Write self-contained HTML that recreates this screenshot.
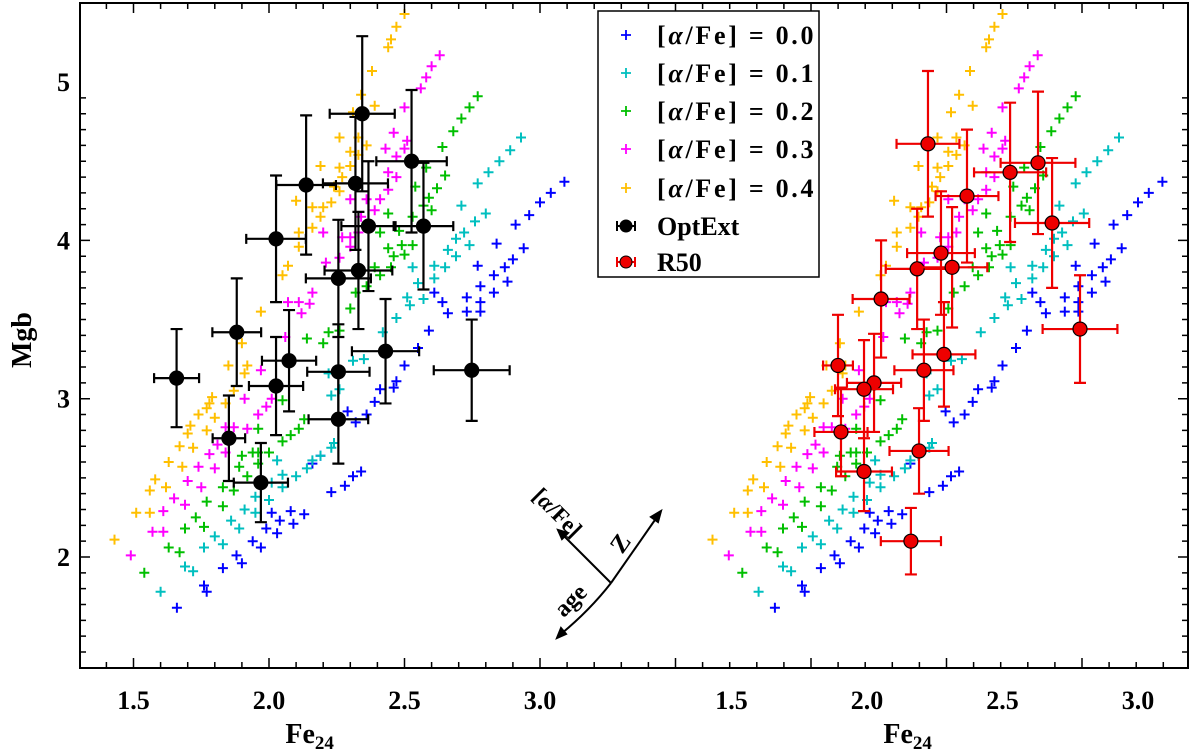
<!DOCTYPE html>
<html><head><meta charset="utf-8"><style>
html,body{margin:0;padding:0;background:#fff;}
svg{display:block;font-family:"Liberation Serif",serif;font-weight:bold;}
</style></head><body>
<svg id="chart" width="1200" height="752" viewBox="0 0 1200 752" xmlns="http://www.w3.org/2000/svg">
<g id="models"></g>
<g id="obs"></g>
<g id="axes"></g>
<g stroke="#000" stroke-width="2" fill="none">
  <line x1="611" y1="583" x2="657" y2="517"/>
  <path d="M661,511 l-3,11 l-7,-5 z" fill="#000"/>
  <line x1="611" y1="583" x2="563" y2="535"/>
  <path d="M558,530 l10,3 l-6,6 z" fill="#000"/>
  <path d="M611,583 Q590,610 561,634"/>
  <path d="M557,638 l4,-10 l5,6 z" fill="#000"/>
</g>
<text x="0" y="0" font-size="23" transform="translate(552,518) rotate(45)" text-anchor="middle">[<tspan font-style="italic">α</tspan>/Fe]</text>
<text x="0" y="0" font-size="25" transform="translate(627,548) rotate(-55)" text-anchor="middle">Z</text>
<text x="0" y="0" font-size="24" transform="translate(576,606) rotate(-45)" text-anchor="middle">age</text>
<g id="legend"></g>
</svg>
<script>
// ---- data ----
const feTicks=[1.5,2.0,2.5,3.0];
const feTickLabels=["1.5","2.0","2.5","3.0"];
const mgbTicks=[2,3,4,5];
const mgbTickLabels=["2","3","4","5"];
const alphaLabels=["0.0","0.1","0.2","0.3","0.4"];
const alphaColors=["#0000ff","#00bfbf","#00bf00","#ff00ff","#ffbf00"];
const alpha00=[[1.66,1.68],[1.76,1.82],[1.77,1.78],[1.83,1.93],[1.88,2.01],[1.90,1.96],[1.94,2.10],[1.97,2.06],[1.99,2.18],[2.03,2.15],[2.01,2.28],[2.04,2.23],[2.09,2.21],[2.08,2.29],[2.13,2.27],[2.23,2.41],[2.28,2.45],[2.31,2.51],[2.34,2.54],[2.16,2.59],[2.19,2.64],[2.29,2.92],[2.32,2.85],[2.36,2.90],[2.39,2.98],[2.41,3.06],[2.46,3.07],[2.47,3.11],[2.50,3.21],[2.55,3.32],[2.59,3.43],[2.61,3.67],[2.64,3.61],[2.66,3.54],[2.73,3.55],[2.78,3.55],[2.73,3.64],[2.78,3.61],[2.77,3.84],[2.78,3.71],[2.83,3.67],[2.83,3.78],[2.88,3.74],[2.87,3.83],[2.90,3.88],[2.94,3.95],[2.84,3.98],[2.91,4.10],[2.96,4.16],[3.00,4.24],[3.04,4.30],[3.09,4.37]];
const alpha01=[[1.60,1.78],[1.69,1.94],[1.72,1.91],[1.76,2.06],[1.80,2.13],[1.83,2.08],[1.86,2.23],[1.89,2.18],[1.91,2.30],[1.95,2.28],[1.95,2.38],[2.00,2.36],[2.01,2.47],[2.05,2.44],[2.05,2.52],[2.10,2.51],[2.03,2.61],[2.14,2.56],[2.16,2.61],[2.19,2.64],[2.23,2.69],[2.24,2.72],[2.22,3.16],[2.23,3.02],[2.26,3.06],[2.31,3.24],[2.35,3.25],[2.42,3.42],[2.47,3.51],[2.51,3.64],[2.52,3.59],[2.57,3.63],[2.53,3.83],[2.55,3.73],[2.61,3.84],[2.61,3.76],[2.65,3.83],[2.66,3.94],[2.69,3.90],[2.69,4.01],[2.74,3.97],[2.72,4.05],[2.76,4.12],[2.80,4.17],[2.71,4.22],[2.77,4.36],[2.81,4.43],[2.85,4.50],[2.89,4.57],[2.93,4.65]];
const alpha02=[[1.54,1.90],[1.63,2.06],[1.67,2.03],[1.69,2.18],[1.76,2.19],[1.73,2.25],[1.77,2.35],[1.83,2.32],[1.83,2.44],[1.87,2.42],[1.89,2.57],[1.92,2.51],[1.90,2.64],[1.94,2.66],[1.96,2.59],[1.96,2.66],[2.00,2.66],[2.05,2.73],[2.08,2.77],[2.11,2.81],[2.13,2.87],[1.96,2.81],[2.05,2.99],[2.14,3.38],[2.20,3.35],[2.22,3.42],[2.26,3.43],[2.30,3.57],[2.32,3.67],[2.36,3.71],[2.39,3.83],[2.41,3.78],[2.45,3.83],[2.46,3.90],[2.50,3.91],[2.41,4.05],[2.48,4.06],[2.44,3.95],[2.49,3.97],[2.53,3.97],[2.44,4.17],[2.53,4.15],[2.57,4.22],[2.60,4.19],[2.59,4.27],[2.54,4.34],[2.58,4.46],[2.62,4.33],[2.65,4.41],[2.64,4.59],[2.68,4.69],[2.71,4.77],[2.74,4.84],[2.77,4.91]];
const alpha03=[[1.49,2.01],[1.57,2.16],[1.61,2.16],[1.61,2.29],[1.69,2.33],[1.65,2.37],[1.70,2.48],[1.75,2.44],[1.74,2.57],[1.80,2.56],[1.78,2.65],[1.84,2.66],[1.81,2.71],[1.84,2.82],[1.87,2.82],[1.92,2.81],[1.91,3.00],[1.96,2.90],[1.99,2.95],[2.01,3.00],[1.97,3.18],[2.06,3.39],[2.07,3.61],[2.11,3.61],[2.15,3.60],[2.12,3.54],[2.16,3.67],[2.21,3.86],[2.26,3.89],[2.20,4.05],[2.27,4.02],[2.30,4.02],[2.33,4.05],[2.30,3.96],[2.34,4.15],[2.39,4.19],[2.30,4.26],[2.36,4.26],[2.41,4.26],[2.44,4.32],[2.44,4.43],[2.47,4.40],[2.47,4.53],[2.43,4.58],[2.50,4.58],[2.51,4.63],[2.46,4.68],[2.50,4.84],[2.56,4.96],[2.58,5.03],[2.60,5.10],[2.63,5.17]];
const alpha04=[[1.43,2.11],[1.51,2.28],[1.56,2.28],[1.56,2.42],[1.62,2.44],[1.58,2.49],[1.63,2.60],[1.68,2.57],[1.67,2.70],[1.72,2.69],[1.70,2.78],[1.77,2.80],[1.71,2.83],[1.74,2.90],[1.80,2.88],[1.77,2.94],[1.78,2.97],[1.79,3.01],[1.84,2.97],[1.87,3.05],[1.85,3.21],[1.91,3.16],[1.92,3.21],[1.90,3.35],[1.97,3.55],[2.05,3.78],[2.07,3.84],[2.11,4.05],[2.11,3.96],[2.16,4.08],[2.19,4.15],[2.10,4.25],[2.16,4.21],[2.20,4.21],[2.23,4.24],[2.24,4.34],[2.26,4.31],[2.27,4.40],[2.19,4.47],[2.26,4.46],[2.30,4.47],[2.30,4.56],[2.33,4.54],[2.26,4.65],[2.33,4.65],[2.36,4.60],[2.31,4.81],[2.39,4.85],[2.34,4.92],[2.38,5.07],[2.44,5.22],[2.45,5.27],[2.47,5.35],[2.50,5.43]];
const alphaSeries=[alpha00,alpha01,alpha02,alpha03,alpha04];
// OptExt (left panel): Fe, Mgb, Fe error, Mgb error
const optFe=[2.344,2.526,2.137,2.319,2.026,2.367,2.570,2.330,2.256,1.659,1.881,2.074,2.026,2.256,2.256,2.430,2.748,1.852,1.970];
const optMgb=[4.80,4.50,4.35,4.36,4.01,4.09,4.09,3.81,3.76,3.13,3.42,3.24,3.08,3.17,2.87,3.30,3.18,2.75,2.47];
const optFeErr=[0.12,0.13,0.11,0.12,0.11,0.10,0.11,0.125,0.12,0.083,0.09,0.10,0.10,0.115,0.11,0.124,0.14,0.06,0.10];
const optMgbErr=[0.49,0.45,0.44,0.42,0.40,0.41,0.40,0.37,0.37,0.31,0.34,0.32,0.31,0.30,0.28,0.33,0.32,0.27,0.25];
// R50 (right panel)
const r50Fe=[2.225,2.631,2.528,2.369,2.683,2.273,2.185,2.314,2.052,2.786,2.284,2.210,1.893,2.026,1.989,1.904,2.192,1.989,2.162];
const r50Mgb=[4.61,4.49,4.43,4.28,4.11,3.92,3.82,3.83,3.63,3.44,3.28,3.18,3.21,3.10,3.06,2.79,2.67,2.54,2.10];
const r50FeErr=[0.116,0.138,0.133,0.116,0.137,0.125,0.116,0.13,0.105,0.138,0.116,0.109,0.055,0.10,0.107,0.098,0.109,0.103,0.111];
const r50MgbErr=[0.46,0.45,0.44,0.42,0.41,0.39,0.38,0.38,0.37,0.34,0.33,0.32,0.32,0.31,0.31,0.28,0.27,0.25,0.21];

// ---- scales ----
const PX=271, L0=269, R0=867;
function xL(fe){return L0+(fe-2)*PX;}
function xR(fe){return R0+(fe-2)*PX;}
function yS(m){return 557-(m-2)*158.3;}
const NS="http://www.w3.org/2000/svg";
function mk(tag,attrs,parent){const e=document.createElementNS(NS,tag);for(const k in attrs)e.setAttribute(k,attrs[k]);parent.appendChild(e);return e;}

// ---- models ----
const gm=document.getElementById('models');
alphaSeries.forEach((ser,i)=>{
  [xL,xR].forEach((xf,pi)=>{
    let d='';
    ser.forEach(p=>{const x=xf(p[0]),y=yS(p[1]);d+=`M${(x-5).toFixed(1)},${y.toFixed(1)}h10M${x.toFixed(1)},${(y-5).toFixed(1)}v10`;});
    const path=mk('path',{d:d,stroke:alphaColors[i],'stroke-width':2,fill:'none'},gm);
    
    
  });
});

// ---- observations ----
const go=document.getElementById('obs');
function drawObs(fe,mgb,fex,mgbx,xf,color,fill,name){
  fe.forEach((f,i)=>{
    const x=xf(f),y=yS(mgb[i]);
    const x1=xf(f-fex[i]),x2=xf(f+fex[i]),y1=yS(mgb[i]+mgbx[i]),y2=yS(mgb[i]-mgbx[i]);
    const g=mk('g',{},go);
    
    
    mk('path',{d:`M${x1},${y}H${x2}M${x},${y1}V${y2}M${x1},${y-5}v10M${x2},${y-5}v10M${x-6},${y1}h12M${x-6},${y2}h12`,stroke:color,'stroke-width':2.2,fill:'none'},g);
    mk('circle',{cx:x,cy:y,r:7,fill:fill,stroke:'#000','stroke-width':1.2},g);
  });
}
drawObs(optFe,optMgb,optFeErr,optMgbErr,xL,'#000','#000','optext');
drawObs(r50Fe,r50Mgb,r50FeErr,r50MgbErr,xR,'#ee0000','#ee0000','r50');

// ---- axes ----
const ga=document.getElementById('axes');
const frame=mk('rect',{x:80,y:3,width:1108,height:665,fill:'none',stroke:'#000','stroke-width':2},ga);


let td='';
for(let k=-8;k<=50;k++){const x=L0+k*PX/10; if(x>81&&x<1187){const maj=(k%5===0);td+=`M${x},668v${maj?-10:-6}M${x},3v${maj?10:6}`;}}
for(let k=-3;k<=36;k++){const y=yS(1.3+k*0.1); if(y>4&&y<667){const maj=Math.abs((1.3+k*0.1)-Math.round(1.3+k*0.1))<0.01;td+=`M80,${y}h${maj?10:6}M1188,${y}h${maj?-10:-6}`;}}
const ticks=mk('path',{d:td,stroke:'#000','stroke-width':1.5,fill:'none'},ga);


[xL,xR].forEach((xf,pi)=>{
  feTicks.forEach((v,i)=>{
    const t=mk('text',{x:xf(v),y:709,'font-size':26,'text-anchor':'middle'},ga);
    t.textContent=feTickLabels[i];
    
    
  });
  const xt=mk('text',{x:xf(2.15),y:743,'font-size':28,'text-anchor':'middle'},ga);
  xt.innerHTML='Fe<tspan font-size="19" dy="6">24</tspan>';
  
  
});
mgbTicks.forEach((v,i)=>{
  const t=mk('text',{x:70,y:yS(v)+9,'font-size':26,'text-anchor':'end'},ga);
  t.textContent=mgbTickLabels[i];
  
  
});
const yt=mk('text',{x:0,y:0,'font-size':28,'text-anchor':'middle',transform:'translate(31,340) rotate(-90)'},ga);
yt.textContent='Mgb';



// ---- legend ----
const gl=document.getElementById('legend');
const lb=mk('rect',{x:598,y:11,width:221,height:266,fill:'#fff',stroke:'#000','stroke-width':1.5},gl);


const rowsY=[35,73,111,149,188];
alphaLabels.forEach((a,i)=>{
  const g=mk('g',{},gl);
  
  
  const y=rowsY[i];
  mk('path',{d:`M621,${y}h10M626,${y-5}v10`,stroke:alphaColors[i],'stroke-width':1.8},g);
  const t=mk('text',{x:657,y:y+9,'font-size':26,'letter-spacing':'0.5'},g);
  t.innerHTML='[<tspan font-style="italic">α</tspan>/Fe] = '+a;
  t.setAttribute('textLength','157');
  t.setAttribute('lengthAdjust','spacing');
});
[['OptExt','#000',226],['R50','#ee0000',262]].forEach(e=>{
  const g=mk('g',{},gl);
  
  
  mk('path',{d:`M617,${e[2]}h18M617,${e[2]-5}v10M635,${e[2]-5}v10M626,${e[2]-6}v12`,stroke:e[1],'stroke-width':2},g);
  mk('circle',{cx:626,cy:e[2],r:6,fill:e[1],stroke:'#000','stroke-width':1},g);
  const t=mk('text',{x:657,y:e[2]+9,'font-size':26},g);
  t.textContent=e[0];
});
</script>
</body></html>
